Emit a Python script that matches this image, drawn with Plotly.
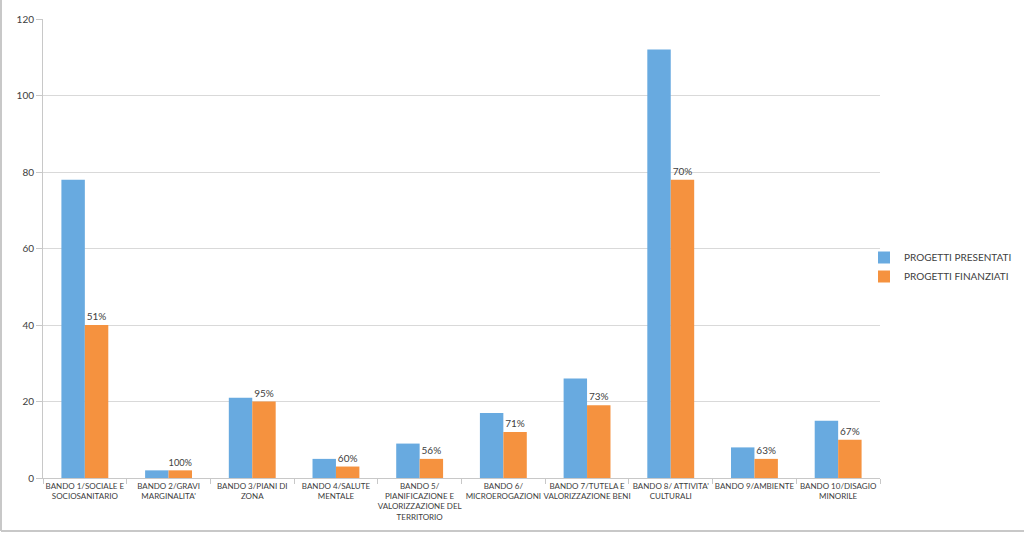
import plotly.graph_objects as go

categories = [
    "BANDO 1/SOCIALE E<br>SOCIOSANITARIO",
    "BANDO 2/GRAVI<br>MARGINALITA'",
    "BANDO 3/PIANI DI<br>ZONA",
    "BANDO 4/SALUTE<br>MENTALE",
    "BANDO 5/<br>PIANIFICAZIONE E<br>VALORIZZAZIONE DEL<br>TERRITORIO",
    "BANDO 6/<br>MICROEROGAZIONI",
    "BANDO 7/TUTELA E<br>VALORIZZAZIONE BENI",
    "BANDO 8/ ATTIVITA'<br>CULTURALI",
    "BANDO 9/AMBIENTE",
    "BANDO 10/DISAGIO<br>MINORILE",
]
presentati = [78, 2, 21, 5, 9, 17, 26, 112, 8, 15]
finanziati = [40, 2, 20, 3, 5, 12, 19, 78, 5, 10]
percent_labels = ["51%", "100%", "95%", "60%", "56%", "71%", "73%", "70%", "63%", "67%"]
y_ticks = [0, 20, 40, 60, 80, 100, 120]

W, H = 1024, 534
L, R, T, B = 43, 144, 19, 56
FONT = "Lato"

fig = go.Figure()
fig.add_trace(go.Bar(
    x=categories, y=presentati, name="PROGETTI PRESENTATI",
    marker=dict(color="#68aae0", line=dict(width=0)),
))
fig.add_trace(go.Bar(
    x=categories, y=finanziati, name="PROGETTI FINANZIATI",
    marker=dict(color="#f5923f", line=dict(width=0)),
    text=percent_labels, textposition="outside", cliponaxis=False,
    textfont=dict(size=10, color="#404040", family=FONT),
))

pw = W - L - R
ph = H - T - B

fig.update_layout(
    width=W, height=H,
    margin=dict(l=L, r=R, t=T, b=B, autoexpand=False),
    paper_bgcolor="white", plot_bgcolor="white",
    barmode="group", bargap=0.44, bargroupgap=0,
    font=dict(family=FONT, color="#404040"),
    legend=dict(
        x=(864 - L) / pw, xanchor="left", y=1 - (243 - T) / ph, yanchor="top",
        font=dict(size=10, color="#404040", family=FONT),
        itemwidth=30, tracegroupgap=4,
        bgcolor="rgba(0,0,0,0)",
    ),
    showlegend=True,
)
fig.update_xaxes(
    automargin=False,
    showline=True, linecolor="#c8c8c8", linewidth=1,
    ticks="outside", tickson="boundaries", ticklen=5, tickcolor="#c8c8c8",
    tickfont=dict(size=8, color="#404040", family=FONT), tickangle=0,
    showgrid=False,
)
fig.update_yaxes(
    automargin=False,
    range=[0, 120], tickvals=y_ticks,
    showgrid=True, gridcolor="#d9d9d9", gridwidth=1,
    showline=True, linecolor="#c8c8c8", linewidth=1,
    ticks="outside", ticklen=6, tickcolor="#c8c8c8",
    tickfont=dict(size=10, color="#404040", family=FONT),
    zeroline=False,
)

# light frame on left and bottom of the image
x0 = (1 - L) / pw
yb = -(531 - T - ph) / ph
fig.add_shape(type="line", xref="paper", yref="paper",
              x0=x0, x1=x0, y0=yb, y1=1 + T / ph,
              line=dict(color="#c8c8c8", width=2))
fig.add_shape(type="line", xref="paper", yref="paper",
              x0=x0, x1=(W - L) / pw, y0=yb, y1=yb,
              line=dict(color="#c8c8c8", width=2))

fig.write_html(
    "out.html",
    config={"displayModeBar": False},
    post_script="document.body.style.margin='0';document.body.style.overflow='hidden';",
)
